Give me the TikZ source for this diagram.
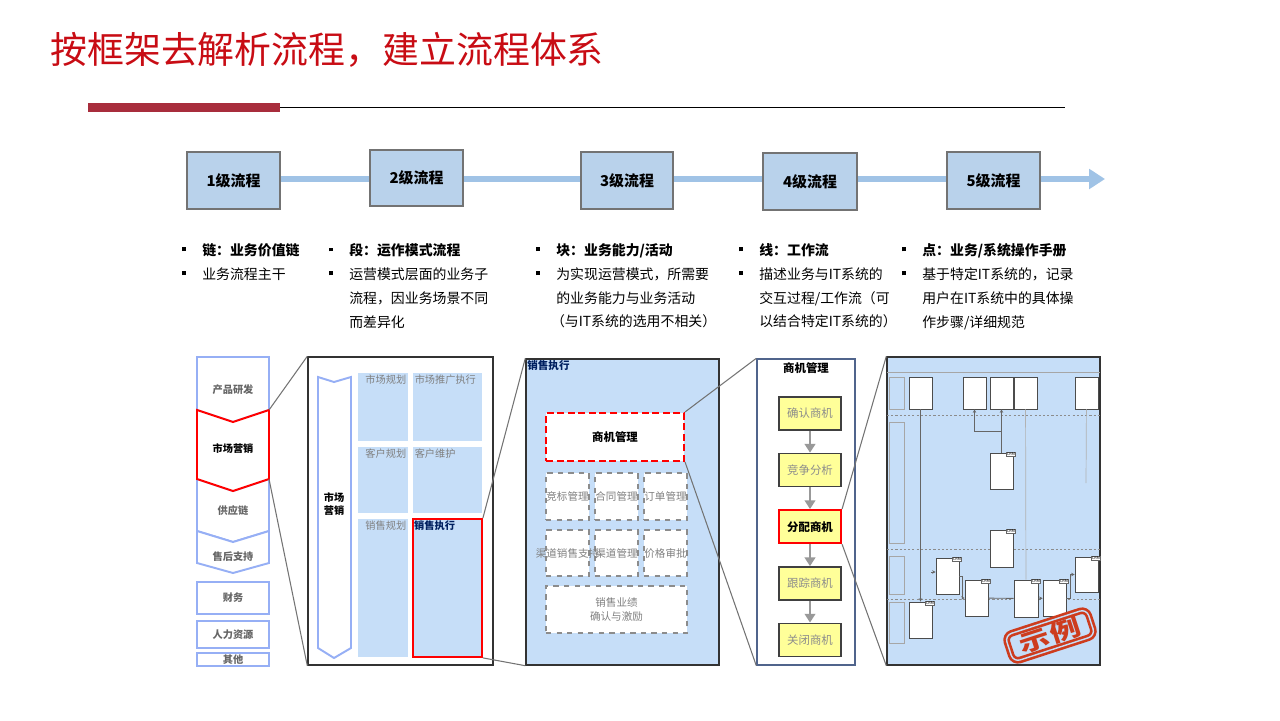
\documentclass[tikz,border=0pt]{standalone}
\usepackage{fontspec}
\setmainfont{Noto Sans CJK SC}
\usetikzlibrary{arrows.meta,positioning,fit}

\definecolor{titlered}{RGB}{200,12,20}
\definecolor{barred}{RGB}{168,45,60}
\definecolor{lvlfill}{RGB}{185,210,235}
\definecolor{flowblue}{RGB}{160,195,230}
\definecolor{chainblue}{RGB}{150,175,245}
\definecolor{cellblue}{RGB}{198,222,248}
\definecolor{navy}{RGB}{0,32,96}
\definecolor{oppyellow}{RGB}{255,255,153}
\definecolor{frameblue}{RGB}{80,100,140}
\definecolor{stampred}{RGB}{205,60,30}

\newcommand\itm{\llap{\rule[2.3pt]{2.2pt}{2.2pt}\hspace{9.5pt}}}

\begin{document}
\begin{tikzpicture}[x=0.02cm,y=-0.02cm,
  lvl/.style={draw=black!55,line width=0.8pt,fill=lvlfill,inner sep=0pt},
  lvltxt/.style={font=\fontsize{8.5}{10}\selectfont\bfseries},
  flow/.style={draw=flowblue,line width=3.4pt},
  notes/.style={anchor=north west,inner sep=0pt,align=left,font=\fontsize{7.9}{13.6}\selectfont},
  chainpart/.style={draw=chainblue,line width=1.1pt,fill=white},
  chaintxt/.style={font=\fontsize{5.8}{7}\selectfont\bfseries,text=black!60},
  panel/.style={draw=black!80,line width=0.8pt,inner sep=0pt},
  cell/.style={fill=cellblue,inner sep=0pt},
  celltxt/.style={font=\fontsize{5.8}{7}\selectfont,text=black!50,inner sep=1pt},
  act/.style={draw=black!45,dashed,line width=0.6pt,fill=white,inner sep=0pt},
  acttxt/.style={font=\fontsize{6}{8}\selectfont,text=black!50,align=center,inner sep=0pt},
  oppbox/.style={draw=black!75,line width=0.8pt,fill=oppyellow,minimum width=1.24cm,minimum height=0.66cm,font=\fontsize{6.5}{8}\selectfont,text=black!45},
  pass/.style={draw=black!40,line width=1.4pt,-{Triangle[length=5pt,width=6pt]}},
  zoomline/.style={draw=black!55,line width=0.6pt},
  mini/.style={draw=black!70,line width=0.4pt,fill=white,inner sep=0pt},
  tag/.style={draw=black!60,line width=0.3pt,fill=white,inner sep=0.4pt,font=\fontsize{2.2}{2.5}\selectfont},
  mlink/.style={draw=black!60,line width=0.5pt},
  mlight/.style={draw=black!30,line width=0.4pt},
  lanebox/.style={draw=black!35,line width=0.5pt},
  lanedash/.style={draw=black!45,line width=0.4pt,dash pattern=on 1.2pt off 1.2pt}
]
\useasboundingbox (0,0) rectangle (1280,720);

% title and rule
\node[anchor=west,inner sep=0pt,text=titlered,font=\fontsize{21}{22}\selectfont] (title) at (50,50) {按框架去解析流程，建立流程体系};
\coordinate (barL) at (88,107.5);
\coordinate (barM) at (280,107.5);
\coordinate (barR) at (1065,107.5);
\draw[barred,line width=5pt] (barL) -- (barM);
\draw[black,line width=1.1pt] (barM) -- (barR);

% process levels
\coordinate (flowstart) at (233,179);
\coordinate (flowend) at (1105,179);
\draw[flow,-{Triangle[length=9pt,width=11pt]}] (flowstart) -- (flowend);
\node[lvl,fit={(187,152) (280,209)}] (l1) {};
\node[lvl,fit={(370,150) (463,206)}] (l2) {};
\node[lvl,fit={(581,152) (673,209)}] (l3) {};
\node[lvl,fit={(763,153) (857,210)}] (l4) {};
\node[lvl,fit={(947,152) (1040,209)}] (l5) {};
\foreach \n in {1,...,5}
  \node[lvltxt] at (l\n) {{\n}级流程};

% notes
\node[notes] (n1) at (202,243) {\itm\textbf{链：业务价值链}\\\itm 业务流程主干};
\node[notes] (n2) at (349,243) {\itm\textbf{段：运作模式流程}\\\itm 运营模式层面的业务子\\流程，因业务场景不同\\而差异化};
\node[notes] (n3) at (556,243) {\itm\textbf{块：业务能力/活动}\\\itm 为实现运营模式，所需要\\的业务能力与业务活动\\\hspace*{-3pt}（与IT系统的选用不相关）};
\node[notes] (n4) at (759,243) {\itm\textbf{线：工作流}\\\itm 描述业务与IT系统的\\交互过程/工作流（可\\以结合特定IT系统的）};
\node[notes] (n5) at (922,243) {\itm\textbf{点：业务/系统操作手册}\\\itm 基于特定IT系统的，记录\\用户在IT系统中的具体操\\作步骤/详细规范};

% level 1: value chain
\draw[chainpart] (197,357) -- (269,357) -- (269,410) -- (233,422) -- (197,410) -- cycle;
\draw[chainpart] (197,479) -- (233,491) -- (269,479) -- (269,531) -- (233,542) -- (197,531) -- cycle;
\draw[chainpart] (197,531) -- (233,542) -- (269,531) -- (269,563) -- (233,573) -- (197,563) -- cycle;
\draw[chainpart,draw=red] (197,410) -- (233,422) -- (269,410) -- (269,479) -- (233,491) -- (197,479) -- cycle;
\coordinate (mkt-ne) at (269,410);
\coordinate (mkt-se) at (269,479);
\node[chaintxt] (rd) at (233,390) {产品研发};
\node[chaintxt,text=black] (mkt) at (233,449) {市场营销};
\node[chaintxt] (sc) at (233,511) {供应链};
\node[chaintxt] (svc) at (233,557) {售后支持};
\node[chainpart,inner sep=0pt,fit={(197,582) (269,614)}] (fin) {};
\node[chainpart,inner sep=0pt,fit={(197,621) (269,648)}] (hr) {};
\node[chainpart,inner sep=0pt,fit={(197,653) (269,666)}] (misc) {};
\node[chaintxt] at (fin) {财务};
\node[chaintxt] at (hr) {人力资源};
\node[chaintxt,inner sep=0pt] at (misc) {其他};

% level 2: marketing
\node[panel,fill=white,fit={(308,357) (493,665)}] (p2) {};
\draw[chainpart] (318,377) -- (334,382) -- (351,377) -- (351,648) -- (334,658) -- (318,648) -- cycle;
\node[chaintxt,text=black,align=center] (mkt2) at (334,504) {市场\\营销};
\node[cell,fit={(358,373) (408,441)}] (mplan) {};
\node[cell,fit={(413,373) (482,441)}] (mexec) {};
\node[cell,fit={(358,447) (408,513)}] (cplan) {};
\node[cell,fit={(413,447) (482,513)}] (cserv) {};
\node[cell,fit={(358,519) (408,657)}] (splan) {};
\node[cell,fit={(413,519) (482,657)},draw=red,line width=1pt] (sexec) {};
\node[celltxt,anchor=north east] at (mplan.north east) {市场规划};
\node[celltxt,anchor=north west] at (mexec.north west) {市场推广执行};
\node[celltxt,anchor=north east] at (cplan.north east) {客户规划};
\node[celltxt,anchor=north west] at (cserv.north west) {客户维护};
\node[celltxt,anchor=north east] at (splan.north east) {销售规划};
\node[celltxt,anchor=north west,text=navy,font=\fontsize{5.8}{7}\selectfont\bfseries] at (sexec.north west) {销售执行};

% level 3: sales execution
\node[panel,fill=cellblue,fit={(526,359) (719,665)}] (p3) {};
\node[anchor=north west,inner sep=1pt,text=navy,font=\fontsize{6}{7}\selectfont\bfseries] (p3title) at (p3.north west) {销售执行};
\node[act,fit={(546,413) (684,461)},draw=red,line width=1.2pt,dash pattern=on 4pt off 2pt] (oppmgmt) {};
\node[act,fit={(546,473) (589,520)}] (bid) {};
\node[act,fit={(595,473) (638,520)}] (contract) {};
\node[act,fit={(644,473) (687,520)}] (order) {};
\node[act,fit={(546,530) (589,576)}] (chansup) {};
\node[act,fit={(595,530) (638,576)}] (chanmgr) {};
\node[act,fit={(644,530) (687,576)}] (price) {};
\node[act,fit={(546,586) (687,633)}] (perf) {};
\node[acttxt,text=black,font=\fontsize{6.5}{8}\selectfont\bfseries] at (oppmgmt) {商机管理};
\foreach \n/\t in {bid/竞标管理,contract/合同管理,order/订单管理,chansup/渠道销售支持,chanmgr/渠道管理,price/价格审批}
  \node[acttxt] at (\n) {\t};
\node[acttxt] at (perf) {销售业绩\\确认与激励};

% level 4: opportunity management
\node[panel,draw=frameblue,fill=white,fit={(757,359) (855,665)}] (p4) {};
\node[anchor=north,inner sep=1pt,font=\fontsize{6.5}{8}\selectfont\bfseries] (p4title) at (806,361) {商机管理};
\node[oppbox] (confirm) at (810,413.5) {确认商机};
\node[oppbox,below=0.44cm of confirm] (compete) {竞争分析};
\node[oppbox,below=0.44cm of compete,draw=red,line width=1.2pt,text=black,font=\fontsize{6.5}{8}\selectfont\bfseries] (alloc) {分配商机};
\node[oppbox,below=0.44cm of alloc] (track) {跟踪商机};
\node[oppbox,below=0.44cm of track] (close) {关闭商机};
\foreach \a/\b in {confirm/compete,compete/alloc,alloc/track,track/close}
  \draw[pass] (\a) -- (\b);

% level 5: swimlane example
\node[panel,fill=cellblue,fit={(887,357) (1100,665)}] (p5) {};
\coordinate (hdrL) at (887,372);
\coordinate (hdrR) at (1100,372);
\draw[lanebox] (hdrL) -- (hdrR);
\foreach \a/\b in {377/409,422/543,556/594,602/643}
  \draw[lanebox] (889,\a) rectangle (904,\b);
\foreach \y in {415,549,599}
  \draw[lanedash] (887,\y) -- (1100,\y);
\foreach \n/\x in {a/909,b/963,c/990,d/1014,e/1075}
  \node[mini,fit={(\x,377) (\x+23,409)}] (\n) {};
\node[mini,fit={(990,453) (1013,489)}] (f2) {};
\node[mini,fit={(990,530) (1013,567)}] (f3) {};
\node[mini,fit={(936,558) (959,594)}] (g) {};
\node[mini,fit={(965,580) (988,616)}] (h) {};
\node[mini,fit={(1014,580) (1038,617)}] (i) {};
\node[mini,fit={(1043,580) (1066,616)}] (j) {};
\node[mini,fit={(1075,557) (1098,592)}] (k) {};
\node[mini,fit={(909,602) (932,638)}] (l) {};
\foreach \n in {f2,f3,g,h,i,j,k,l}
  \node[tag,anchor=north east] at ([xshift=1.5pt,yshift=0.5pt]\n.north east) {CRM};
\coordinate (jn) at (1001.5,431);
\coordinate (gin) at (931,572);
\coordinate (eend) at (1086,483);
\draw[mlink,-{Stealth[length=2pt,width=2pt]}] (a) -- (l);
\draw[mlink,-{Stealth[length=2pt,width=2pt]}] (f2) -- (c);
\draw[mlink,-{Stealth[length=2pt,width=2pt]}] (jn) -| (b);
\draw[mlight] (d) -- (i);
\draw[mlight] (e) -- (eend);
\draw[mlink,-{Stealth[length=2pt,width=2pt]}] (gin) -- (g.west |- gin);
\draw[mlink,-{Stealth[length=2pt,width=2pt]}] (g.east) -- ++(3,0) |- (h.west);
\draw[mlink] (h) -- (i);
\draw[mlink,-{Stealth[length=2pt,width=2pt]}] (i) -- (j);
\draw[mlink,-{Stealth[length=2pt,width=2pt]}] (j.east) -- ++(4,0) |- (k.west);
\node[rotate=18,draw=stampred,line width=1.5pt,double=cellblue,double distance=0.8pt,rounded corners=4pt,minimum width=1.72cm,minimum height=0.56cm,inner sep=0pt,text=stampred,font=\fontsize{13}{13}\selectfont\bfseries] (stamp) at (1050,635.5) {\scalebox{1.35}[1]{示\hspace{1pt}例}};

% zoom connectors
\draw[zoomline] (mkt-ne) -- (p2.north west);
\draw[zoomline] (mkt-se) -- (p2.south west);
\draw[zoomline] (sexec.north east) -- (p3.north west);
\draw[zoomline] (sexec.south east) -- (p3.south west);
\draw[zoomline] (oppmgmt.north east) -- (p4.north west);
\draw[zoomline] (oppmgmt.south east) -- (p4.south west);
\draw[zoomline] (alloc.north east) -- (p5.north west);
\draw[zoomline] (alloc.south east) -- (p5.south west);
\end{tikzpicture}
\end{document}
